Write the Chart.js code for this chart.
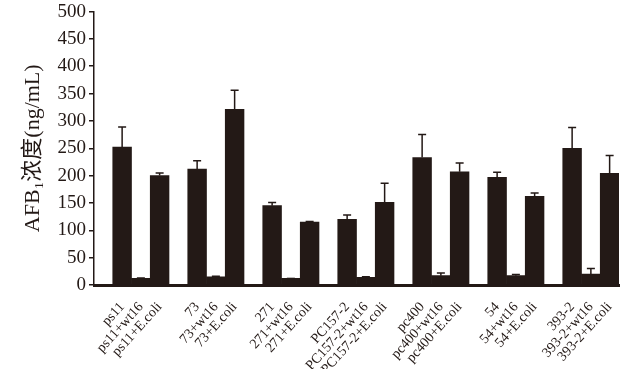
<!DOCTYPE html>
<html>
<head>
<meta charset="utf-8">
<script src="https://cdn.jsdelivr.net/npm/chart.js@4/dist/chart.umd.min.js"></script>
<style>
  html, body { margin: 0; padding: 0; background: #fff; }
  #wrap { width: 631px; height: 369px; }
</style>
</head>
<body>
<div id="wrap"><canvas id="chart"></canvas></div>
<script>
// strains and treatments (one empty slot in front of each group)
const strains = ["ps11", "73", "271", "PC157-2", "pc400", "54", "393-2"];
const treatments = ["", "+wt16", "+E.coli"];

// AFB1 concentration (ng/mL), per strain: [alone, +wt16, +E.coli]
const means = [
  [252, 12, 200],
  [212, 15, 321],
  [145, 12, 115],
  [120, 14, 151],
  [233, 17, 207],
  [197, 17, 162],
  [250, 20, 204]
];
// upper error (sd)
const errors = [
  [37, 1, 5],
  [15, 1, 35],
  [6, 0, 1],
  [8, 1, 35],
  [42, 5, 16],
  [9, 2, 6],
  [38, 10, 33]
];

const yTicks = [0, 50, 100, 150, 200, 250, 300, 350, 400, 450, 500];

const ink = "#231916";

// build the slot arrays: gap, then the three bars of each strain
const labels = [];
const values = [];
const errs = [];
strains.forEach(function (s, i) {
  labels.push("");
  values.push(null);
  errs.push(null);
  treatments.forEach(function (t, j) {
    labels.push(s + t);
    values.push(means[i][j]);
    errs.push(errors[i][j]);
  });
});

const errorBars = {
  id: "errorBars",
  afterDatasetsDraw(chart) {
    const ctx = chart.ctx;
    const y = chart.scales.y;
    const meta = chart.getDatasetMeta(0);
    ctx.save();
    ctx.strokeStyle = ink;
    ctx.lineWidth = 1.5;
    meta.data.forEach(function (bar, i) {
      if (values[i] === null) return;
      const top = y.getPixelForValue(values[i]);
      const cap = y.getPixelForValue(values[i] + errs[i]);
      ctx.beginPath();
      ctx.moveTo(bar.x, top);
      ctx.lineTo(bar.x, cap);
      ctx.moveTo(bar.x - 4, cap);
      ctx.lineTo(bar.x + 4, cap);
      ctx.stroke();
    });
    ctx.restore();
  }
};

new Chart(document.getElementById("chart"), {
  type: "bar",
  data: {
    labels: labels,
    datasets: [{
      data: values,
      backgroundColor: ink,
      barPercentage: 1,
      categoryPercentage: 1
    }]
  },
  options: {
    responsive: true,
    maintainAspectRatio: false,
    animation: false,
    layout: { padding: { top: 0, right: 12, bottom: 0, left: 20 } },
    plugins: { legend: { display: false }, tooltip: { enabled: false } },
    scales: {
      x: {
        afterFit(scale) { scale.height = 84; },
        grid: { display: false },
        border: { color: ink, width: 3 },
        ticks: {
          autoSkip: false,
          minRotation: 48,
          maxRotation: 48,
          padding: 6,
          color: ink,
          font: { family: "'Liberation Serif', 'Times New Roman', serif", size: 14 }
        }
      },
      y: {
        min: 0,
        max: 500,
        afterFit(scale) { scale.width = 74; },
        afterBuildTicks(scale) {
          scale.ticks = yTicks.map(function (v) { return { value: v }; });
        },
        grid: { drawOnChartArea: false, drawTicks: true, tickLength: 5, color: ink, lineWidth: 1.5 },
        border: { color: ink, width: 1.5 },
        ticks: {
          padding: 3,
          color: ink,
          font: { family: "'Liberation Serif', 'Times New Roman', serif", size: 19, lineHeight: 0.9 }
        },
        title: {
          display: true,
          text: "AFB\u2081浓度(ng/mL)",
          color: ink,
          padding: { top: 0, bottom: 0 },
          font: { family: "'Liberation Serif', 'Noto Sans CJK SC', 'DejaVu Serif', serif", size: 22 }
        }
      }
    }
  },
  plugins: [errorBars]
});
</script>
</body>
</html>
